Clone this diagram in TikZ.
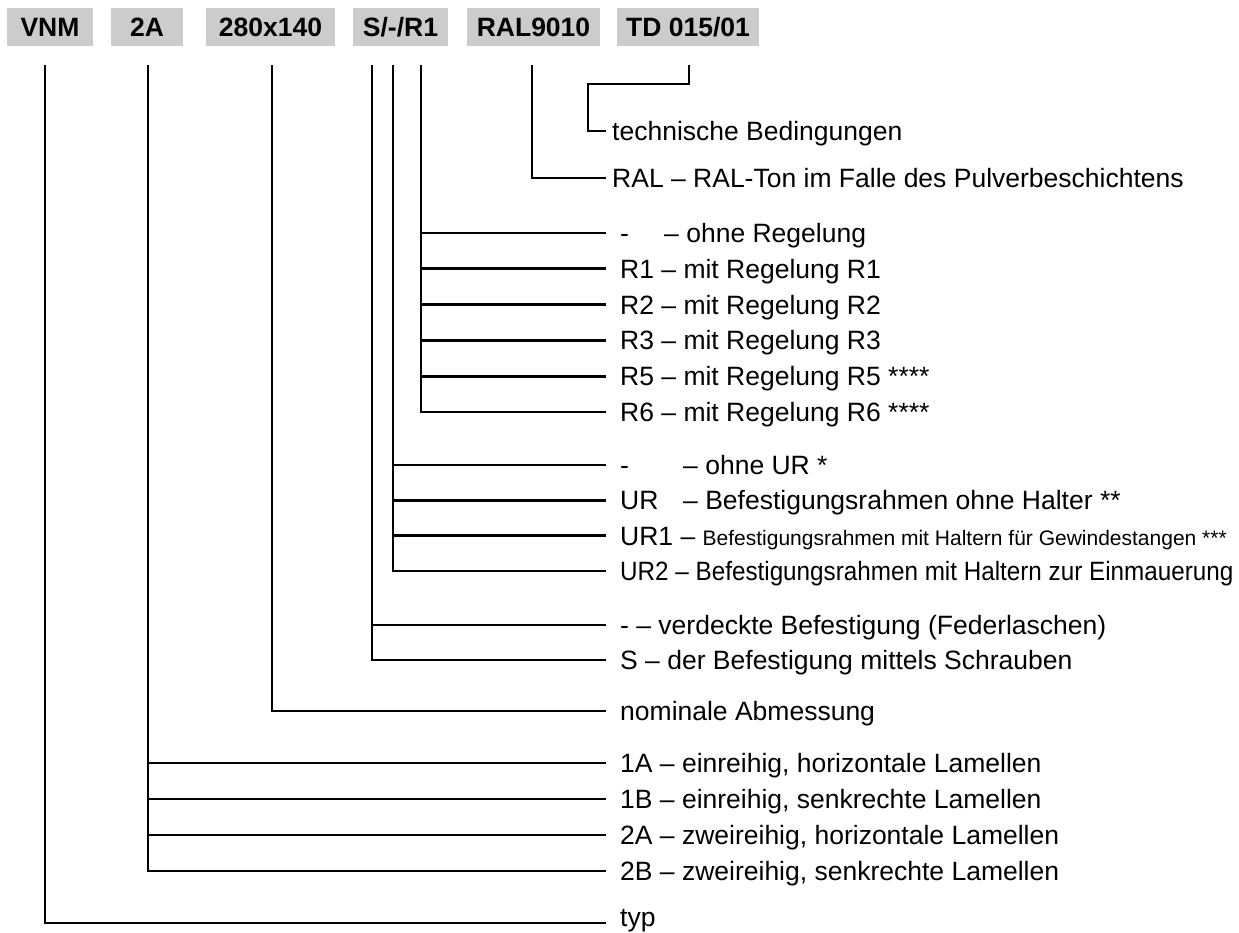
\documentclass[tikz,border=0pt]{standalone}
\usepackage{fontspec}
\setmainfont{Liberation Sans}
\definecolor{codefill}{HTML}{CCCCCC}
\definecolor{inkblack}{HTML}{000000}
\newcommand{\squeeze}[2]{\scalebox{#1}[1]{#2}}

\begin{document}
\begin{tikzpicture}[
  x=1pt, y=-1pt,
  font=\fontsize{26.5}{30}\selectfont,
  code/.style = {fill=codefill, minimum height=38pt, inner sep=0pt,
                 text height=19pt, text depth=0pt,
                 font=\fontsize{26.5}{30}\selectfont\bfseries},
  conn/.style = {draw=inkblack, line width=2.8pt},
  lbl/.style  = {anchor=west, inner xsep=14pt, inner ysep=0pt,
                 text height=19pt, text depth=0pt},
  near/.style = {inner xsep=6pt},
]
\useasboundingbox (0,0) rectangle (1239,932);

% --- the code, box by box ----------------------------------------------------------------------
\node[code, minimum width=86pt]  (vnm)  at (50,27)    {VNM};
\node[code, minimum width=72pt]  (typ)  at (147,27)   {2A};
\node[code, minimum width=129pt] (size) at (270.5,27) {280x140};
\node[code, minimum width=95pt]  (fix)  at (400.5,27) {S/-/R1};
\node[code, minimum width=133pt] (ral)  at (533.5,27) {RAL9010};
\node[code, minimum width=142pt] (td)   at (688,27)   {TD 015/01};

% --- where the lines leave the code --------------------------------------------------------------
\coordinate (vnm-t)  at (45,65);
\coordinate (typ-t)  at (148,65);
\coordinate (size-t) at (272,65);
\coordinate (fixS-t) at (372,65);
\coordinate (fixU-t) at (393,65);
\coordinate (fixR-t) at (421,65);
\coordinate (ral-t)  at (532,65);
\coordinate (td-t)   at (689,65);
\coordinate (td-k)   at (588,84);

% --- the meanings, one column --------------------------------------------------------------------
\node[lbl, near] (l-td)  at (606,131) {technische Bedingungen};
\node[lbl, near] (l-ral) at (606,178) {RAL – RAL-Ton im Falle des Pulverbeschichtens};

\node[lbl] (l-r0)   at (606,233)   {\makebox[44pt][l]{-}– ohne Regelung};
\node[lbl] (l-r1)   at (606,268.8) {R1 – mit Regelung R1};
\node[lbl] (l-r2)   at (606,304.6) {R2 – mit Regelung R2};
\node[lbl] (l-r3)   at (606,340.4) {R3 – mit Regelung R3};
\node[lbl] (l-r5)   at (606,376.2) {R5 – mit Regelung R5 ****};
\node[lbl] (l-r6)   at (606,412)   {R6 – mit Regelung R6 ****};

\node[lbl] (l-u0)   at (606,465)   {\makebox[63pt][l]{-}– ohne UR *};
\node[lbl] (l-u)    at (606,500.3) {\makebox[63pt][l]{UR}– Befestigungsrahmen ohne Halter **};
\node[lbl] (l-u1)   at (606,535.7) {UR1 – {\fontsize{21}{25}\selectfont Befestigungsrahmen mit Haltern für Gewindestangen ***}};
\node[lbl] (l-u2)   at (606,571)   {\squeeze{0.915}{UR2 – Befestigungsrahmen mit Haltern zur Einmauerung}};

\node[lbl] (l-s0)   at (606,625)   {- – verdeckte Befestigung (Federlaschen)};
\node[lbl] (l-s)    at (606,660)   {S – der Befestigung mittels Schrauben};

\node[lbl] (l-size) at (606,711)   {nominale Abmessung};

\node[lbl] (l-1a)   at (606,763)   {1A – einreihig, horizontale Lamellen};
\node[lbl] (l-1b)   at (606,799)   {1B – einreihig, senkrechte Lamellen};
\node[lbl] (l-2a)   at (606,835)   {2A – zweireihig, horizontale Lamellen};
\node[lbl] (l-2b)   at (606,871)   {2B – zweireihig, senkrechte Lamellen};

\node[lbl, text height=6pt] (l-typ) at (606,923) {typ};

% --- the lines -----------------------------------------------------------------------------------
\draw[conn] (td-t) |- (td-k) |- (l-td.west);
\draw[conn] (ral-t) |- (l-ral.west);
\foreach \k in {r0,r1,r2,r3,r5,r6} \draw[conn] (fixR-t) |- (l-\k.west);
\foreach \k in {u0,u,u1,u2}        \draw[conn] (fixU-t) |- (l-\k.west);
\foreach \k in {s0,s}              \draw[conn] (fixS-t) |- (l-\k.west);
\draw[conn] (size-t) |- (l-size.west);
\foreach \k in {1a,1b,2a,2b}       \draw[conn] (typ-t) |- (l-\k.west);
\draw[conn] (vnm-t) |- (l-typ.west);

\end{tikzpicture}
\end{document}
